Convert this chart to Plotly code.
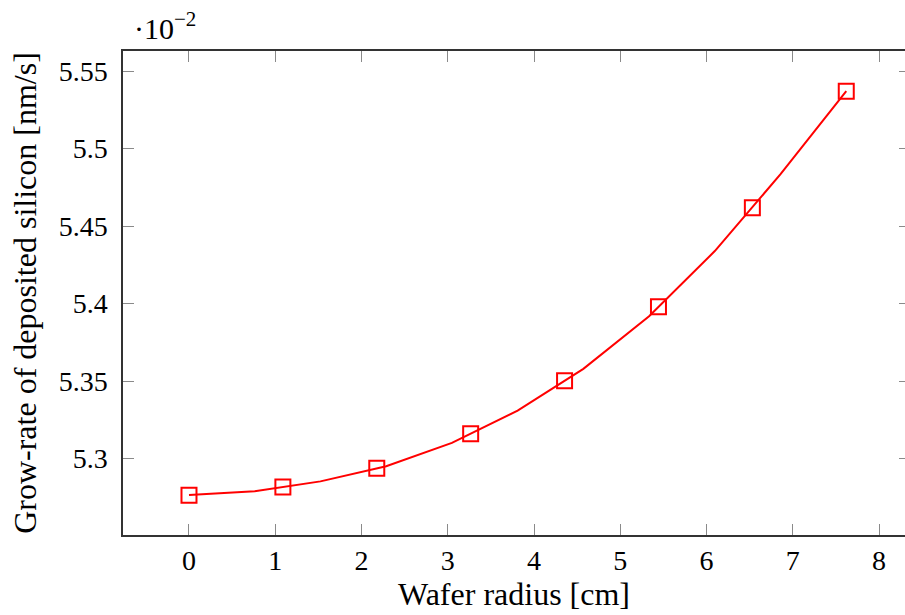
import plotly.graph_objects as go

# Data (growth rate values expressed in units of 1e-2 nm/s)
line_x = [0.0, 0.762, 1.524, 2.286, 3.048, 3.81, 4.572, 5.334, 6.096, 6.858, 7.62]
line_y = [5.2765, 5.2789, 5.2853, 5.2951, 5.3101, 5.3310, 5.3579, 5.3918, 5.4339, 5.4835, 5.5371]

marker_x = [0.0, 1.0886, 2.1771, 3.2657, 4.3543, 5.4429, 6.5314, 7.62]
marker_y = [5.2763, 5.2816, 5.2937, 5.3161, 5.3502, 5.3980, 5.4618, 5.5371]

x_ticks = [0, 1, 2, 3, 4, 5, 6, 7, 8]
y_ticks = [5.3, 5.35, 5.4, 5.45, 5.5, 5.55]
y_tick_labels = ["5.3", "5.35", "5.4", "5.45", "5.5", "5.55"]

FONT = "Liberation Serif"
FS_TICK = 28
FS_TITLE = 32
RED = "#ff0000"

fig = go.Figure()
fig.add_trace(go.Scatter(x=line_x, y=line_y, mode="lines",
                         line=dict(color=RED, width=2), showlegend=False, hoverinfo="skip"))
fig.add_trace(go.Scatter(x=marker_x, y=marker_y, mode="markers",
                         marker=dict(symbol="square-open", size=15, color=RED,
                                     line=dict(color=RED, width=2)),
                         showlegend=False))
# invisible trace on the right axis to show right-side ticks
fig.add_trace(go.Scatter(x=[marker_x[0]], y=[marker_y[0]], yaxis="y2", mode="markers",
                         marker=dict(opacity=0), showlegend=False, hoverinfo="skip"))

yrange = [5.2507, 5.5630]

fig.update_layout(
    width=905, height=615,
    margin=dict(l=123, r=0, t=51, b=80),
    plot_bgcolor="white", paper_bgcolor="white",
    font=dict(family=FONT, size=FS_TICK, color="black"),
    xaxis=dict(range=[-0.765, 8.301], tickvals=x_ticks, ticks="inside", ticklen=11,
               tickcolor="#8a8a8a", tickwidth=1, showgrid=False, zeroline=False,
               showline=True, linecolor="#333333", linewidth=1.5, mirror="ticks",
               ticklabelstandoff=0,
               title=dict(text="Wafer radius [cm]", standoff=6, font=dict(size=FS_TITLE))),
    yaxis=dict(range=yrange, tickvals=y_ticks, ticktext=y_tick_labels, ticks="inside",
               ticklen=11, tickcolor="#8a8a8a", tickwidth=1, showgrid=False, zeroline=False,
               showline=True, linecolor="#333333", linewidth=1.5, mirror=False,
               ticklabelstandoff=8,
               title=dict(text="Grow-rate of deposited silicon [nm/s]", standoff=12,
                          font=dict(size=FS_TITLE))),
    yaxis2=dict(range=yrange, overlaying="y", side="right", tickvals=y_ticks,
                ticks="inside", ticklen=6, tickcolor="#8a8a8a", tickwidth=1,
                showticklabels=False, showgrid=False, zeroline=False, showline=False),
    annotations=[dict(text="·10<sup>−2</sup>", xref="paper", yref="paper",
                      x=0.012, y=1.0, xanchor="left", yanchor="bottom", yshift=4,
                      showarrow=False, font=dict(family=FONT, size=30))],
)

fig.write_html("out.html")
